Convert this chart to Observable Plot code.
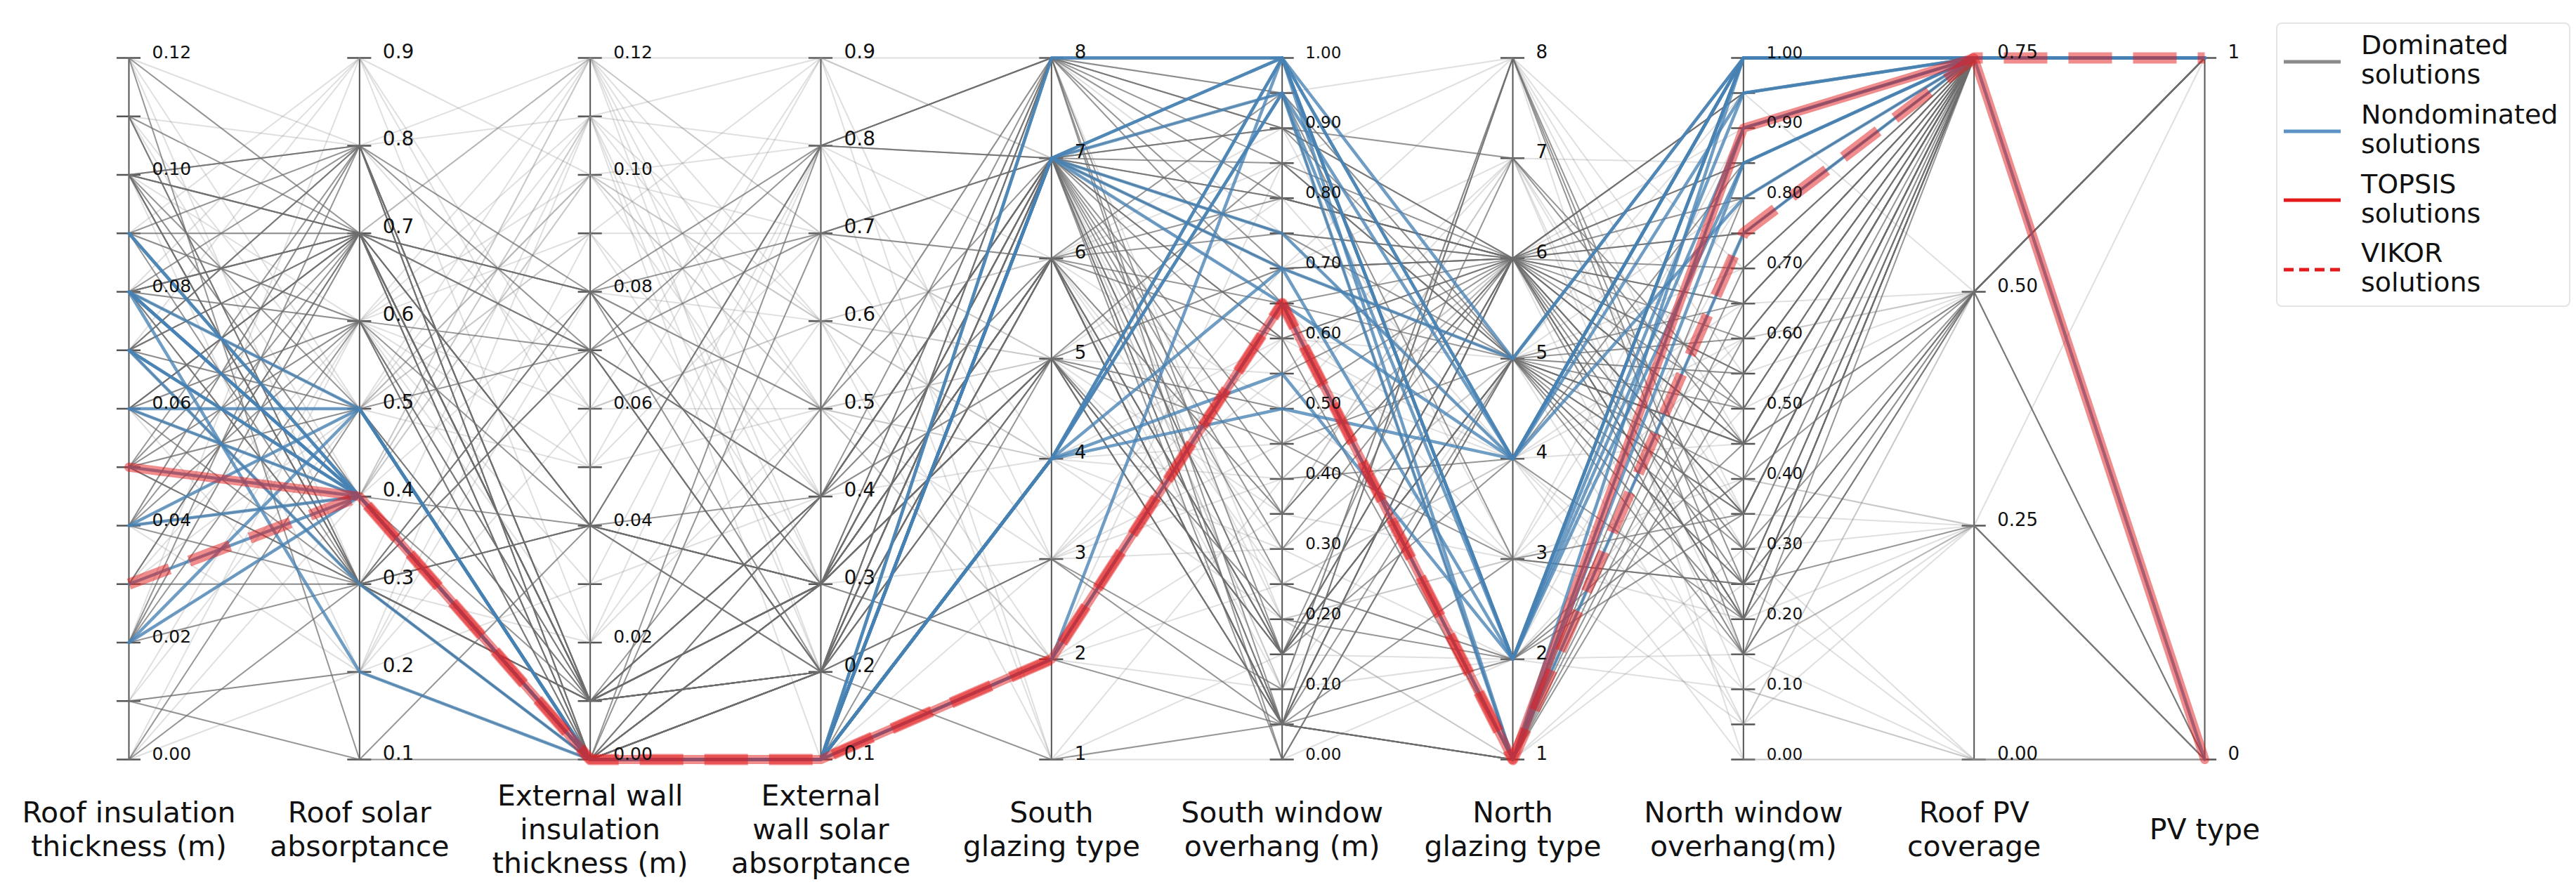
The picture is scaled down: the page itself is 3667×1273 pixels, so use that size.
<!DOCTYPE html>
<html><head><meta charset="utf-8">
<script src="https://cdn.jsdelivr.net/npm/d3@7"></script>
<script src="https://cdn.jsdelivr.net/npm/@observablehq/plot@0.6"></script>
<style>
html,body{margin:0;padding:0;background:#fff;}
#wrap{position:relative;width:3667px;height:1273px;overflow:hidden;font-family:"DejaVu Sans",sans-serif;}
#legend{position:absolute;left:3240px;top:32px;width:419px;height:405px;box-sizing:border-box;border:2px solid #e4e4e4;border-radius:8px;background:#fff;padding-top:2px;}
.item{display:flex;align-items:center;height:98.7px;}
.sw{width:81px;height:20px;margin-left:9px;margin-right:29px;margin-top:5px;}
.lab{font-size:38px;line-height:42px;color:#111;}
</style></head>
<body><div id="wrap"><div id="chart"></div><div id="legend"></div></div>
<script>
// ---------- axes ----------
const axisTitles = [
  "Roof insulation\nthickness (m)",
  "Roof solar\nabsorptance",
  "External wall\ninsulation\nthickness (m)",
  "External\nwall solar\nabsorptance",
  "South\nglazing type",
  "South window\noverhang (m)",
  "North\nglazing type",
  "North window\noverhang(m)",
  "Roof PV\ncoverage",
  "PV type"
];
const axisMin = [0, 0.1, 0, 0.1, 1, 0, 1, 0, 0, 0];
const axisMax = [0.12, 0.9, 0.12, 0.9, 8, 1, 8, 1, 0.75, 1];
const ticksThickness = [0,0.01,0.02,0.03,0.04,0.05,0.06,0.07,0.08,0.09,0.10,0.11,0.12];
const labelsThickness = [0,0.02,0.04,0.06,0.08,0.10,0.12];
const ticksAbsorptance = [0.1,0.2,0.3,0.4,0.5,0.6,0.7,0.8,0.9];
const ticksGlazing = [1,2,3,4,5,6,7,8];
const ticksOverhang = [0,0.05,0.10,0.15,0.20,0.25,0.30,0.35,0.40,0.45,0.50,0.55,0.60,0.65,0.70,0.75,0.80,0.85,0.90,0.95,1.00];
const labelsOverhang = [0,0.10,0.20,0.30,0.40,0.50,0.60,0.70,0.80,0.90,1.00];
const ticksCoverage = [0,0.25,0.50,0.75];
const ticksPVType = [0,1];
const axisTicks = [ticksThickness, ticksAbsorptance, ticksThickness, ticksAbsorptance, ticksGlazing, ticksOverhang, ticksGlazing, ticksOverhang, ticksCoverage, ticksPVType];
const axisLabels = [labelsThickness, ticksAbsorptance, labelsThickness, ticksAbsorptance, ticksGlazing, labelsOverhang, ticksGlazing, labelsOverhang, ticksCoverage, ticksPVType];
const labelDigits = [2, 1, 2, 1, 0, 2, 0, 2, 2, 0];

// ---------- solutions (values per axis) ----------
const topsis = [0.05, 0.4, 0.00, 0.1, 2, 0.65, 1, 0.90, 0.75, 0];
const vikor  = [0.03, 0.4, 0.00, 0.1, 2, 0.65, 1, 0.75, 0.75, 1];

const nondominated = [
  [0.09, 0.4, 0, 0.1, 7, 1.00, 4, 1.00, 0.75, 1],
  [0.08, 0.4, 0, 0.1, 7, 0.95, 2, 1.00, 0.75, 1],
  [0.08, 0.4, 0, 0.1, 7, 0.75, 4, 0.95, 0.75, 1],
  [0.08, 0.5, 0, 0.1, 8, 1.00, 2, 0.85, 0.75, 1],
  [0.08, 0.2, 0, 0.1, 4, 1.00, 1, 1.00, 0.75, 1],
  [0.07, 0.4, 0, 0.1, 7, 0.70, 2, 1.00, 0.75, 1],
  [0.07, 0.4, 0, 0.1, 4, 0.95, 4, 0.80, 0.75, 1],
  [0.06, 0.5, 0, 0.1, 8, 1.00, 5, 1.00, 0.75, 1],
  [0.06, 0.4, 0, 0.1, 4, 0.50, 4, 1.00, 0.75, 1],
  [0.04, 0.4, 0, 0.1, 4, 0.55, 2, 0.95, 0.75, 1],
  [0.04, 0.5, 0, 0.1, 7, 0.65, 4, 1.00, 0.75, 1],
  [0.02, 0.5, 0, 0.1, 4, 0.70, 5, 1.00, 0.75, 1],
  [0.02, 0.4, 0, 0.1, 2, 1.00, 2, 1.00, 0.75, 1],
  [0.07, 0.3, 0, 0.1, 7, 1.00, 4, 1.00, 0.75, 1],
  [0.08, 0.4, 0, 0.1, 4, 1.00, 2, 0.90, 0.75, 1],
  [0.09, 0.4, 0, 0.1, 4, 0.95, 1, 0.85, 0.75, 1]
];

const dominatedDark = [
  [0.10, 0.7, 0.01, 0.3, 7, 0.85, 6, 0.45, 0.75, 1],
  [0.10, 0.3, 0.00, 0.2, 7, 0.70, 5, 0.60, 0.75, 1],
  [0.10, 0.4, 0.04, 0.3, 6, 0.15, 6, 0.35, 0.75, 1],
  [0.10, 0.7, 0.07, 0.4, 8, 0.90, 6, 0.80, 0.75, 1],
  [0.10, 0.3, 0.01, 0.2, 5, 0.05, 5, 0.25, 0.50, 1],
  [0.11, 0.7, 0.08, 0.8, 7, 0.60, 6, 0.50, 0.75, 1],
  [0.12, 0.1, 0.00, 0.3, 6, 0.05, 8, 0.20, 0.75, 1],
  [0.08, 0.8, 0.00, 0.2, 7, 0.80, 6, 0.70, 0.75, 1],
  [0.08, 0.7, 0.01, 0.3, 5, 0.15, 5, 0.45, 0.75, 1],
  [0.08, 0.3, 0.04, 0.2, 6, 0.75, 6, 0.95, 0.75, 1],
  [0.07, 0.8, 0.01, 0.4, 7, 0.95, 3, 0.35, 0.75, 1],
  [0.07, 0.7, 0.07, 0.2, 6, 0.05, 6, 0.65, 0.75, 1],
  [0.07, 0.3, 0.00, 0.1, 5, 0.20, 2, 0.40, 0.50, 0],
  [0.06, 0.7, 0.08, 0.3, 7, 0.30, 6, 0.55, 0.75, 1],
  [0.06, 0.4, 0.01, 0.5, 8, 0.85, 5, 0.30, 0.75, 1],
  [0.05, 0.6, 0.04, 0.3, 6, 0.05, 1, 0.75, 0.75, 1],
  [0.05, 0.3, 0.00, 0.2, 7, 0.55, 6, 0.20, 0.75, 1],
  [0.04, 0.6, 0.01, 0.2, 5, 0.15, 6, 0.85, 0.75, 1],
  [0.04, 0.3, 0.07, 0.8, 8, 0.65, 5, 0.45, 0.75, 1],
  [0.02, 0.6, 0.00, 0.3, 7, 0.05, 1, 0.60, 0.75, 1],
  [0.00, 0.5, 0.01, 0.4, 6, 0.35, 6, 0.25, 0.75, 1],
  [0.01, 0.1, 0.04, 0.2, 3, 0.05, 8, 0.15, 0.50, 0],
  [0.09, 0.8, 0.00, 0.7, 7, 0.70, 6, 0.35, 0.75, 1],
  [0.10, 0.8, 0.00, 0.3, 5, 0.45, 5, 0.20, 0.75, 1],
  [0.03, 0.7, 0.01, 0.2, 8, 0.90, 7, 0.50, 0.75, 1],
  [0.06, 0.3, 0.04, 0.4, 7, 0.15, 5, 0.55, 0.75, 1],
  [0.08, 0.7, 0.00, 0.2, 6, 0.05, 3, 0.25, 0.50, 1],
  [0.05, 0.5, 0.07, 0.7, 7, 0.80, 6, 0.65, 0.75, 1],
  [0.02, 0.3, 0.01, 0.3, 2, 0.05, 1, 0.90, 0.75, 1],
  [0.07, 0.8, 0.08, 0.3, 5, 0.50, 6, 0.75, 0.75, 1],
  [0.10, 0.5, 0.01, 0.2, 7, 0.00, 5, 0.40, 0.75, 1],
  [0.09, 0.7, 0.04, 0.3, 6, 0.15, 6, 0.30, 0.50, 1],
  [0.04, 0.4, 0.00, 0.8, 8, 0.95, 1, 0.70, 0.75, 1],
  [0.03, 0.3, 0.01, 0.2, 7, 0.40, 4, 0.85, 0.75, 1],
  [0.06, 0.7, 0.00, 0.3, 5, 0.05, 6, 0.60, 0.75, 1],
  [0.11, 0.3, 0.07, 0.2, 3, 0.10, 8, 0.25, 0.25, 0],
  [0.05, 0.7, 0.01, 0.4, 7, 0.75, 5, 0.50, 0.75, 1],
  [0.00, 0.3, 0.08, 0.7, 6, 0.60, 6, 0.45, 0.75, 1],
  [0.08, 0.6, 0.01, 0.3, 7, 0.25, 2, 0.35, 0.75, 1],
  [0.07, 0.5, 0.00, 0.2, 8, 0.70, 6, 0.95, 0.75, 1],
  [0.10, 0.7, 0.04, 0.8, 7, 0.05, 1, 0.80, 0.75, 1],
  [0.02, 0.8, 0.01, 0.3, 5, 0.85, 5, 0.65, 0.75, 1],
  [0.06, 0.6, 0.07, 0.2, 6, 0.15, 4, 0.20, 0.50, 1],
  [0.09, 0.3, 0.00, 0.4, 7, 0.90, 6, 0.75, 0.75, 1],
  [0.04, 0.7, 0.01, 0.3, 8, 0.00, 5, 0.45, 0.75, 1],
  [0.01, 0.2, 0.00, 0.2, 1, 0.05, 1, 0.55, 0.75, 1],
  [0.12, 0.7, 0.04, 0.3, 6, 0.65, 6, 0.35, 0.75, 1],
  [0.08, 0.3, 0.08, 0.5, 7, 0.45, 3, 0.25, 0.75, 1],
  [0.05, 0.8, 0.01, 0.2, 5, 0.15, 7, 0.45, 0.75, 1],
  [0.07, 0.4, 0.00, 0.3, 6, 0.05, 6, 0.85, 0.75, 1],
  [0.10, 0.8, 0.01, 0.3, 8, 0.80, 6, 0.20, 0.75, 1],
  [0.08, 0.7, 0.00, 0.4, 7, 0.15, 5, 0.15, 0.75, 1],
  [0.07, 0.7, 0.01, 0.2, 8, 0.05, 6, 0.45, 0.75, 1],
  [0.05, 0.3, 0.04, 0.3, 6, 0.95, 5, 0.35, 0.75, 1],
  [0.09, 0.6, 0.00, 0.2, 7, 0.60, 1, 0.65, 0.75, 1],
  [0.04, 0.8, 0.07, 0.4, 5, 0.70, 6, 0.15, 0.50, 1],
  [0.06, 0.7, 0.01, 0.3, 7, 0.90, 5, 0.25, 0.75, 1],
  [0.11, 0.3, 0.00, 0.2, 6, 0.80, 6, 0.55, 0.75, 1],
  [0.03, 0.7, 0.04, 0.8, 8, 0.15, 5, 0.35, 0.75, 1],
  [0.10, 0.3, 0.01, 0.4, 7, 0.35, 6, 0.95, 0.75, 1],
  [0.08, 0.5, 0.00, 0.3, 5, 0.05, 2, 0.45, 0.50, 1],
  [0.02, 0.7, 0.08, 0.2, 7, 0.75, 6, 0.20, 0.75, 1]
];

const dominatedLight = [
  [0.12, 0.8, 0.12, 0.9, 8, 0.95, 8, 0.55, 0.75, 1],
  [0.11, 0.8, 0.11, 0.8, 6, 0.35, 7, 0.30, 0.25, 1],
  [0.09, 0.7, 0.12, 0.7, 5, 0.25, 4, 0.10, 0.00, 0],
  [0.03, 0.3, 0.11, 0.6, 4, 0.20, 3, 0.05, 0.50, 1],
  [0.06, 0.5, 0.10, 0.5, 3, 0.30, 2, 0.15, 0.25, 0],
  [0.01, 0.2, 0.06, 0.9, 7, 0.10, 8, 0.00, 0.00, 0],
  [0.00, 0.6, 0.12, 0.2, 6, 0.85, 5, 0.95, 0.50, 1],
  [0.04, 0.5, 0.09, 0.4, 5, 0.50, 3, 0.20, 0.25, 0],
  [0.08, 0.6, 0.10, 0.6, 4, 0.40, 6, 0.30, 0.75, 1],
  [0.02, 0.4, 0.11, 0.1, 3, 0.70, 7, 0.10, 0.00, 0],
  [0.07, 0.9, 0.02, 0.5, 2, 0.25, 4, 0.65, 0.50, 1],
  [0.10, 0.6, 0.06, 0.6, 1, 0.00, 2, 0.40, 0.25, 0],
  [0.05, 0.5, 0.12, 0.4, 6, 0.30, 5, 0.70, 0.75, 1],
  [0.11, 0.4, 0.10, 0.5, 4, 0.45, 6, 0.25, 0.50, 1],
  [0.00, 0.2, 0.03, 0.8, 8, 0.20, 3, 0.80, 0.75, 1],
  [0.09, 0.9, 0.05, 0.7, 5, 0.35, 7, 0.15, 0.25, 0],
  [0.03, 0.5, 0.11, 0.9, 3, 0.55, 4, 0.00, 0.00, 0],
  [0.06, 0.6, 0.09, 0.3, 7, 0.10, 2, 0.50, 0.50, 1],
  [0.12, 0.3, 0.02, 0.6, 2, 0.85, 8, 0.35, 0.75, 1],
  [0.02, 0.7, 0.12, 0.5, 4, 0.60, 5, 0.05, 0.25, 0],
  [0.05, 0.4, 0.10, 0.7, 6, 0.90, 3, 0.60, 0.50, 1],
  [0.10, 0.2, 0.08, 0.6, 5, 0.20, 1, 0.30, 0.00, 0],
  [0.01, 0.6, 0.11, 0.2, 3, 0.40, 6, 0.90, 0.75, 1],
  [0.04, 0.8, 0.06, 0.5, 8, 0.75, 4, 0.45, 0.50, 1],
  [0.07, 0.5, 0.10, 0.8, 1, 0.15, 2, 0.10, 0.25, 0],
  [0.08, 0.4, 0.12, 0.6, 6, 0.50, 7, 0.85, 0.75, 1],
  [0.03, 0.6, 0.03, 0.4, 4, 0.30, 5, 0.20, 0.50, 1],
  [0.11, 0.5, 0.09, 0.9, 7, 0.65, 3, 0.40, 0.25, 0],
  [0.06, 0.2, 0.11, 0.3, 2, 0.10, 8, 0.70, 0.75, 1],
  [0.09, 0.6, 0.05, 0.5, 5, 0.80, 4, 0.15, 0.00, 0],
  [0.00, 0.4, 0.12, 0.7, 3, 0.45, 6, 0.05, 0.50, 1],
  [0.12, 0.5, 0.10, 0.4, 6, 0.25, 2, 0.75, 0.75, 1],
  [0.02, 0.9, 0.06, 0.6, 5, 0.55, 7, 0.35, 0.25, 0],
  [0.05, 0.6, 0.02, 0.8, 4, 0.95, 5, 0.55, 0.50, 1],
  [0.10, 0.4, 0.11, 0.5, 2, 0.35, 3, 0.90, 0.75, 1],
  [0.04, 0.2, 0.09, 0.7, 7, 0.20, 1, 0.25, 0.00, 0],
  [0.07, 0.7, 0.12, 0.3, 3, 0.60, 4, 0.60, 0.50, 1],
  [0.01, 0.5, 0.05, 0.9, 1, 0.40, 6, 0.15, 0.25, 0],
  [0.08, 0.9, 0.10, 0.6, 6, 0.10, 5, 0.80, 0.75, 1],
  [0.03, 0.4, 0.08, 0.5, 5, 0.70, 8, 0.45, 0.50, 1]
];

// ---------- helpers ----------
const norm = (v, i) => (v - axisMin[i]) / (axisMax[i] - axisMin[i]);
function toRows(list, prefix) {
  const rows = [];
  list.forEach((sol, k) => sol.forEach((v, i) => rows.push({id: prefix + k, i, y: norm(v, i)})));
  return rows;
}
const tickRows = [];
axisTicks.forEach((ts, i) => ts.forEach(t => tickRows.push({i, y: norm(t, i)})));
const labelRows = [];
axisLabels.forEach((ls, i) => ls.forEach(t => labelRows.push({i, y: norm(t, i), text: d3.format("." + labelDigits[i] + "f")(t)})));
const labelSizes = [25, 28, 25, 28, 26, 23, 26, 23, 26, 26];

const lightRows = toRows(dominatedLight, "L");
const darkRows = toRows(dominatedDark, "D");
const blueRows = toRows(nondominated.concat([topsis, vikor]), "N");
const topsisRows = toRows([topsis], "T");
const vikorRows = toRows([vikor], "V");

const chart = Plot.plot({
  width: 3667,
  height: 1273,
  marginTop: 82,
  marginBottom: 192,
  marginLeft: 183,
  marginRight: 529,
  x: {type: "linear", domain: [0, 9], axis: null},
  y: {type: "linear", domain: [0, 1], axis: null},
  style: {fontFamily: "DejaVu Sans, sans-serif", background: "#fff", overflow: "visible"},
  marks: [
    Plot.ruleX(d3.range(10), {x: d => d, y1: 0, y2: 1, stroke: "#555", strokeWidth: 2}),
    Plot.ruleY(tickRows, {x1: d => d.i === 9 ? d.i : d.i - 0.052, x2: d => d.i + 0.052, y: "y", stroke: "#555", strokeWidth: 2.5}),
    Plot.line(lightRows, {x: "i", y: "y", z: "id", stroke: "#8c8c8c", strokeOpacity: 0.28, strokeWidth: 2}),
    Plot.line(darkRows, {x: "i", y: "y", z: "id", stroke: "#6e6e6e", strokeOpacity: 0.72, strokeWidth: 2}),
    Plot.line(blueRows, {x: "i", y: "y", z: "id", stroke: "#4682b4", strokeOpacity: 0.78, strokeWidth: 4.5}),
    Plot.line(topsisRows, {x: "i", y: "y", z: "id", stroke: "#e41a1c", strokeOpacity: 0.5, strokeWidth: 13}),
    Plot.line(vikorRows, {x: "i", y: "y", z: "id", stroke: "#e41a1c", strokeOpacity: 0.5, strokeWidth: 16, strokeDasharray: "62 30", strokeLinecap: "butt"}),
    ...d3.range(10).map(i => Plot.text(labelRows.filter(d => d.i === i), {x: "i", y: "y", text: "text", dx: 33, textAnchor: "start", lineAnchor: "bottom", fontSize: labelSizes[i], fill: "#111"})),
    Plot.text(axisTitles, {x: (d, i) => i, frameAnchor: "bottom", dy: 98, text: d => d, lineAnchor: "middle", textAnchor: "middle", fontSize: 41, lineHeight: 1.17, fill: "#111"})
  ]
});
document.getElementById("chart").appendChild(chart);

// ---------- legend ----------
const legendItems = [
  {label: "Dominated\nsolutions", color: "#8a8a8a", dash: null},
  {label: "Nondominated\nsolutions", color: "#5b93c6", dash: null},
  {label: "TOPSIS\nsolutions", color: "#e41a1c", dash: null},
  {label: "VIKOR\nsolutions", color: "#e41a1c", dash: "14 8"}
];
const leg = d3.select("#legend");
legendItems.forEach(it => {
  const row = leg.append("div").attr("class", "item");
  const sv = row.append("svg").attr("class", "sw").attr("width", 81).attr("height", 20);
  sv.append("line").attr("x1", 0).attr("x2", 81).attr("y1", 10).attr("y2", 10)
    .attr("stroke", it.color).attr("stroke-width", 5).attr("stroke-dasharray", it.dash);
  row.append("div").attr("class", "lab").html(it.label.replace("\n", "<br>"));
});
</script></body></html>
